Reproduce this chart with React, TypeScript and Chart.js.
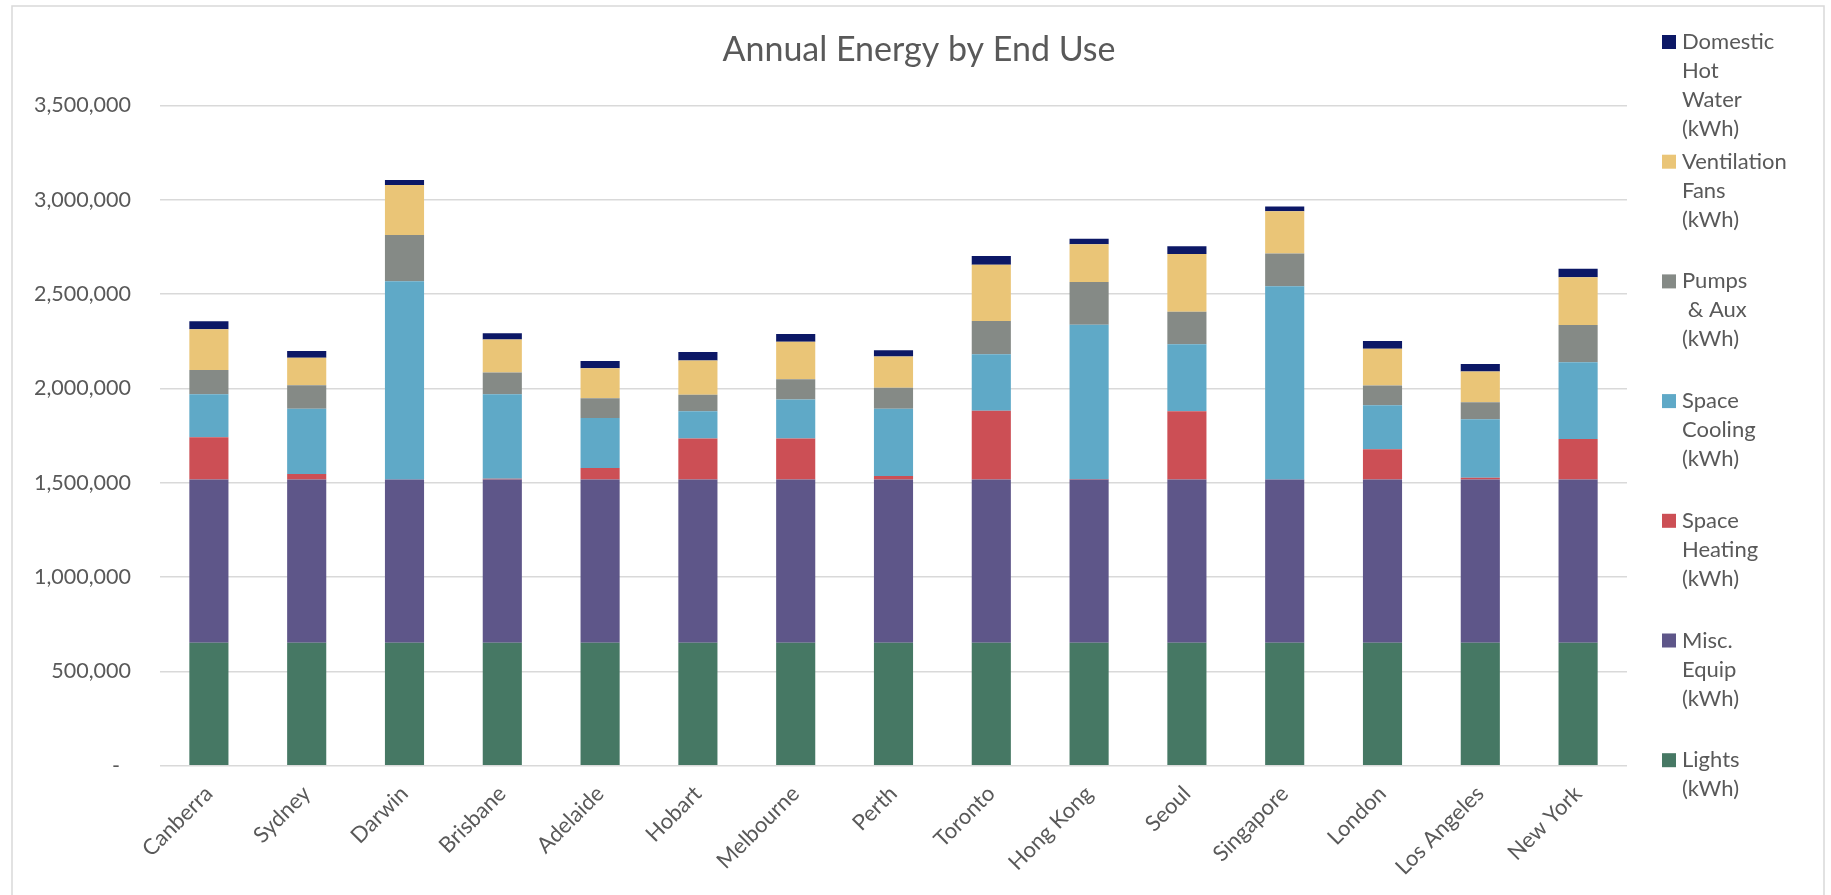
import React, { useEffect, useRef } from "react";
import { Chart, registerables } from "chart.js";

Chart.register(...registerables);

const cities = [
  "Canberra", "Sydney", "Darwin", "Brisbane", "Adelaide", "Hobart", "Melbourne", "Perth",
  "Toronto", "Hong Kong", "Seoul", "Singapore", "London", "Los Angeles", "New York",
];

const lights = [652000, 652000, 652000, 652000, 652000, 652000, 652000, 652000, 652000, 652000, 652000, 652000, 652000, 652000, 652000];
const miscEquip = [865000, 865000, 865000, 865000, 865000, 865000, 865000, 865000, 865000, 865000, 865000, 865000, 865000, 865000, 865000];
const spaceHeating = [224000, 30000, 0, 4000, 61000, 217000, 217000, 19000, 365000, 3000, 362000, 0, 161000, 10000, 215000];
const spaceCooling = [228000, 346000, 1051000, 448000, 265000, 145000, 207000, 357000, 299000, 818000, 355000, 1025000, 233000, 310000, 407000];
const pumpsAux = [129000, 124000, 246000, 115000, 105000, 87000, 108000, 111000, 177000, 226000, 173000, 173000, 104000, 90000, 198000];
const ventilationFans = [216000, 146000, 265000, 175000, 159000, 182000, 198000, 165000, 298000, 200000, 306000, 224000, 196000, 163000, 253000];
const domesticHotWater = [42000, 36000, 26000, 33000, 39000, 45000, 41000, 34000, 46000, 30000, 41000, 25000, 41000, 39000, 44000];

const seriesNames = [
  "Lights (kWh)", "Misc. Equip (kWh)", "Space Heating (kWh)", "Space Cooling (kWh)",
  " Pumps & Aux (kWh)", "Ventilation Fans (kWh)", "Domestic Hot Water (kWh)",
];
const legendLines = [
  ["Lights", "(kWh)"],
  ["Misc.", "Equip", "(kWh)"],
  ["Space", "Heating", "(kWh)"],
  ["Space", "Cooling", "(kWh)"],
  ["Pumps", " & Aux", "(kWh)"],
  ["Ventilation", "Fans", "(kWh)"],
  ["Domestic", "Hot", "Water", "(kWh)"],
];
const seriesColors = ["#467864", "#5E5689", "#CC4F55", "#5FA9C7", "#858A86", "#EAC577", "#0C1866"];

const chartTitle = "Annual Energy by End Use";
const FONT = "Lato, 'Open Sans', sans-serif";
const TEXT = "#595959";

export default function App() {
  const ref = useRef<HTMLCanvasElement | null>(null);

  useEffect(() => {
    if (!ref.current) return;
    const series = [lights, miscEquip, spaceHeating, spaceCooling, pumpsAux, ventilationFans, domesticHotWater];

    const decor = {
      id: "decor",
      beforeDraw(chart: any) {
        const ctx = chart.ctx;
        ctx.save();
        ctx.fillStyle = "#ffffff";
        ctx.fillRect(0, 0, chart.width, chart.height);
        ctx.strokeStyle = "#d9d9d9";
        ctx.lineWidth = 1.5;
        ctx.strokeRect(12, 6, 1812, 950);
        ctx.restore();
      },
      afterDraw(chart: any) {
        const ctx = chart.ctx;
        ctx.save();
        ctx.fillStyle = TEXT;
        ctx.font = `34px ${FONT}`;
        ctx.textAlign = "center";
        ctx.textBaseline = "middle";
        ctx.fillText(chartTitle, 919, 50);

        ctx.font = `22px ${FONT}`;
        ctx.textAlign = "left";
        const n = chart.data.datasets.length;
        for (let k = 0; k < n; k++) {
          const i = n - 1 - k;
          const ds = chart.data.datasets[i];
          const y0 = 42 + k * 119.7;
          ctx.fillStyle = ds.backgroundColor;
          ctx.fillRect(1662, y0 - 7, 14, 14);
          ctx.fillStyle = TEXT;
          const lines = legendLines[i];
          lines.forEach((ln: string, j: number) => {
            ctx.fillText(ln, 1682, y0 + j * 29);
          });
        }
        ctx.restore();
      },
    };

    const chart = new Chart(ref.current, {
      type: "bar",
      data: {
        labels: cities,
        datasets: series.map((d, i) => ({
          label: seriesNames[i],
          data: d,
          backgroundColor: seriesColors[i],
          borderWidth: 0,
          barPercentage: 0.4,
          categoryPercentage: 1,
        })),
      },
      options: {
        responsive: false,
        animation: false,
        devicePixelRatio: 1,
        layout: { padding: { left: 0, right: 204, top: 105.5, bottom: 0 } },
        plugins: {
          legend: { display: false },
          title: { display: false },
          tooltip: { enabled: false },
        },
        scales: {
          x: {
            stacked: true,
            grid: { display: false, drawTicks: false },
            border: { display: false },
            ticks: {
              color: TEXT,
              font: { family: FONT, size: 22 },
              maxRotation: 45,
              minRotation: 45,
              padding: 15,
              autoSkip: false,
            },
            afterFit(scale: any) {
              scale.height = 129.3;
            },
          },
          y: {
            stacked: true,
            min: 0,
            max: 3500000,
            grid: { color: "#d9d9d9", lineWidth: 1.5, drawTicks: false },
            border: { display: false },
            ticks: {
              stepSize: 500000,
              color: TEXT,
              font: { family: FONT, size: 21.5 },
              padding: 29,
              callback: (v: any) => (Number(v) === 0 ? "-  " : Number(v).toLocaleString("en-US")),
            },
            afterFit(scale: any) {
              scale.width = 160;
            },
          },
        },
      },
      plugins: [decor],
    });
    return () => chart.destroy();
  }, []);

  return (
    <div style={{ position: "fixed", left: 0, top: 0, width: 1831, height: 895, background: "#fff" }}>
      <canvas ref={ref} width={1831} height={895} style={{ display: "block", width: 1831, height: 895 }} />
    </div>
  );
}
